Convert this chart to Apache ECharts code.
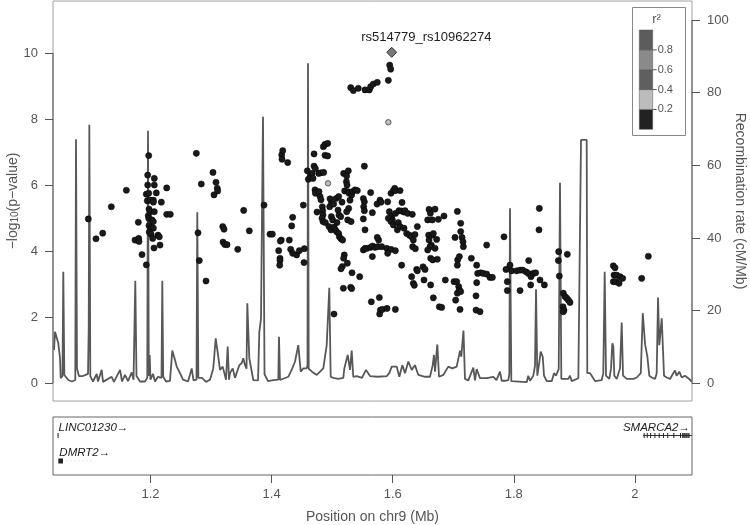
<!DOCTYPE html>
<html><head><meta charset="utf-8">
<script src="https://cdn.jsdelivr.net/npm/echarts@6/dist/echarts.min.js"></script>
<style>html,body{margin:0;padding:0;background:#fff}#c{width:750px;height:525px}</style>
</head><body><div id="c"></div>
<script>
// ---- recombination rate (cM/Mb) ----
const recPos = [1.0407,1.0423,1.0451,1.0478,1.0506,1.0517,1.0547,1.0560,1.0577,1.0605,1.0643,1.0704,1.0758,1.0770,1.0786,1.0819,1.0885,1.0968,1.0980,1.0990,1.1006,1.1051,1.1112,1.1133,1.1194,1.1216,1.1359,1.1397,1.1497,1.1530,1.1579,1.1629,1.1690,1.1720,1.1749,1.1769,1.1827,1.1909,1.1947,1.1959,1.1972,1.1987,1.2000,1.2042,1.2075,1.2124,1.2182,1.2195,1.2210,1.2256,1.2322,1.2360,1.2405,1.2433,1.2487,1.2537,1.2620,1.2681,1.2710,1.2760,1.2773,1.2790,1.2851,1.2917,1.2983,1.3037,1.3077,1.3098,1.3120,1.3148,1.3193,1.3219,1.3247,1.3275,1.3297,1.3313,1.3358,1.3396,1.3424,1.3467,1.3506,1.3533,1.3561,1.3586,1.3599,1.3632,1.3698,1.3776,1.3797,1.3825,1.3858,1.3883,1.3941,1.4028,1.4111,1.4122,1.4139,1.4276,1.4342,1.4387,1.4441,1.4481,1.4524,1.4580,1.4593,1.4601,1.4613,1.4667,1.4745,1.4771,1.4854,1.4882,1.4910,1.4932,1.4953,1.4976,1.5019,1.5097,1.5184,1.5201,1.5257,1.5295,1.5323,1.5349,1.5406,1.5493,1.5559,1.5625,1.5758,1.5901,1.5944,1.5984,1.6010,1.6066,1.6109,1.6159,1.6203,1.6258,1.6314,1.6368,1.6423,1.6534,1.6616,1.6661,1.6682,1.6699,1.6737,1.6765,1.6836,1.6918,1.6985,1.7057,1.7112,1.7133,1.7169,1.7194,1.7249,1.7331,1.7359,1.7387,1.7442,1.7553,1.7579,1.7662,1.7714,1.7772,1.7800,1.7855,1.7909,1.7926,1.7937,1.7959,1.7992,1.8213,1.8239,1.8268,1.8322,1.8350,1.8367,1.8388,1.8421,1.8444,1.8478,1.8499,1.8544,1.8626,1.8664,1.8697,1.8742,1.8763,1.8785,1.8900,1.8928,1.8956,1.9066,1.9094,1.9110,1.9204,1.9214,1.9259,1.9287,1.9341,1.9452,1.9478,1.9501,1.9523,1.9578,1.9606,1.9627,1.9644,1.9660,1.9700,1.9754,1.9782,1.9804,1.9865,1.9974,2.0031,2.0097,2.0130,2.0168,2.0205,2.0238,2.0278,2.0332,2.0360,2.0382,2.0403,2.0426,2.0443,2.0469,2.0481,2.0526,2.0580,2.0624,2.0662,2.0690,2.0733,2.0773,2.0827,2.0882,2.0938];
const recRate = [9.2,14.2,14.2,11.0,6.9,1.4,2.0,30.7,2.3,2.0,0.9,0.5,0.9,67.2,4.1,2.0,2.0,2.6,15.1,71.2,2.0,0.5,2.6,0.5,3.7,0.4,1.8,0.4,3.7,0.5,2.3,0.6,3.0,1.0,28.2,2.0,0.5,0.5,1.5,69.5,2.0,7.8,1.0,2.6,0.5,1.8,1.5,28.2,1.8,0.5,0.7,9.0,6.4,4.6,2.8,1.0,0.5,4.1,0.8,1.0,47.1,1.5,1.5,0.4,1.0,4.1,12.4,12.4,7.3,3.7,4.6,5.0,1.0,10.1,1.0,2.8,4.1,1.5,1.8,5.0,5.5,6.9,5.0,4.0,22.0,6.9,0.9,0.8,14.0,17.9,73.4,2.5,0.6,0.9,1.0,12.8,0.9,1.8,4.1,6.0,10.5,3.2,4.1,4.1,5.0,88.1,4.0,3.2,2.3,1.8,4.1,4.1,10.5,10.5,26.3,1.8,1.5,1.2,1.5,4.1,7.8,3.7,9.0,1.8,2.0,1.5,3.7,2.0,1.8,2.0,2.8,4.6,4.1,4.6,1.8,5.0,2.8,6.0,3.7,5.0,2.3,1.8,1.8,5.0,7.8,3.2,10.7,1.8,2.3,4.6,4.1,4.6,9.0,7.3,14.5,1.2,0.8,4.3,0.8,3.9,1.4,1.4,1.8,1.8,0.9,3.2,0.7,0.7,0.9,2.5,48.2,0.6,0.3,0.3,2.1,0.7,2.1,4.8,25.9,2.1,5.7,8.7,7.3,2.1,0.6,0.6,2.8,2.1,3.9,55.2,1.2,1.2,2.1,0.6,1.4,1.4,67.0,67.0,2.8,2.8,2.1,0.6,0.9,2.8,30.7,2.1,1.2,4.1,11.0,10.1,2.1,1.2,4.1,16.7,2.1,1.2,1.2,1.6,2.8,19.3,10.7,7.5,2.1,1.6,1.2,2.8,23.6,10.5,10.5,17.9,17.9,2.1,1.6,1.2,2.5,3.5,2.1,3.2,1.6,2.1,1.4,0.5];

// ---- SNPs with r2 < 0.2 : position (Mb), -log10(p) ----
const snpPos = [1.0973,1.1100,1.1211,1.1353,1.1601,1.1799,1.1744,1.1805,1.1810,1.1860,1.1931,1.1971,1.1954,1.1954,1.2063,1.2063,1.2096,1.2268,1.1931,1.1971,1.1947,1.1992,1.2047,1.2047,1.2179,1.1976,1.1992,1.2063,1.1964,1.1971,1.2025,1.2047,1.1976,1.2020,1.2047,1.1980,1.2009,1.2124,1.2146,1.2037,1.2157,1.2058,1.2268,1.2327,1.2757,1.2839,1.2785,1.2806,1.2917,1.3032,1.3082,1.3103,1.3110,1.3049,1.3193,1.3214,1.3198,1.3226,1.3264,1.3441,1.3539,1.3632,1.3875,1.3974,1.4012,1.4160,1.4144,1.4117,1.4139,1.4139,1.4134,1.4167,1.4184,1.4172,1.4266,1.4293,
1.4348,1.4332,1.4524,1.4541,1.4535,1.4315,1.4348,1.4414,1.4458,1.4590,1.4607,1.4640,1.4668,1.4701,1.4723,1.4684,1.4778,1.4816,1.4860,1.4701,1.4855,1.4882,1.4926,1.4882,1.4926,1.4717,1.4723,1.4783,1.4800,1.4816,1.4838,1.4750,1.4844,1.4849,1.4833,1.4849,1.4888,1.4965,1.4987,1.4959,1.5025,1.4987,1.5009,1.4948,1.4981,1.5031,1.5053,1.5075,1.5108,1.5119,1.5146,1.5174,1.5097,1.5113,1.5141,1.5080,1.5064,1.5108,1.5190,1.5267,1.5240,1.5235,1.5246,1.5207,1.5257,1.5279,1.5323,1.5334,1.5378,1.5416,1.5163,1.5273,1.5295,1.5240,1.5257,1.5312,1.5532,1.5636,1.5515,1.5532,1.5521,1.5532,1.5515,1.5543,1.5664,1.5515,1.5543,1.5576,1.5636,1.5669,1.5708,1.5752,1.5768,1.5818,1.5664,1.5901,1.5972,1.6044,1.5746,1.5917,1.5201,1.5190,1.5168,1.5146,1.5251,1.5328,1.5455,1.5185,1.5306,1.5323,1.5031,1.5647,1.5780,1.5796,1.5785,1.5829,1.5906,1.6044,1.5741,1.5790,1.5807,1.5917,1.5972,1.6011,1.6033,1.6049,1.6121,1.6154,1.5945,1.5983,1.5994,1.6049,1.6104,1.6148,1.6187,1.6203,1.6247,1.6324,1.5928,1.5972,1.6011,1.6093,1.6077,1.6121,1.6187,1.6231,1.6275,1.6313,1.6341,1.6368,1.6330,1.6374,1.6407,1.6148,1.6313,1.6341,1.6357,1.6396,1.6407,1.6501,1.6534,1.6517,1.6627,1.6671,1.6770,1.6809,1.6600,1.6699,1.6622,1.6578,1.6655,1.6754,1.6847,1.7068,1.7123,1.7029,1.7123,1.7145,1.7161,1.7167,1.6594,1.6600,1.6655,1.6671,1.6638,1.6616,1.6726,1.6699,1.6578,1.6627,1.6660,1.6737,1.6869,1.7013,1.7057,1.7090,1.7101,1.7068,1.7123,1.7040,1.7112,1.7073,1.7068,1.7101,1.7299,1.7387,1.7403,1.7453,1.7497,1.7552,1.7607,1.7646,1.7387,1.7376,1.7376,1.7442,1.7552,
1.7838,1.7871,1.7893,1.7937,1.7965,1.7893,1.8048,1.8103,1.8147,1.8202,1.8246,1.8240,1.8284,1.8323,1.8361,1.8279,1.8103,1.8422,1.8416,1.8433,1.8505,1.8741,1.8736,1.8752,1.8884,1.8818,1.8846,1.8873,1.8901,1.8928,1.8813,1.8829,1.8818,1.9644,1.9672,1.9655,1.9699,1.9754,1.9798,1.9644,1.9683,1.9738,2.0112,2.0222,
1.5307,1.5350,1.5432,1.5543,1.5614,1.5637,1.5680,1.5746,1.5951,1.5967,1.5928];
const snpLogP = [4.98,4.38,4.55,5.35,5.85,4.88,4.34,4.39,4.30,3.90,3.59,6.90,6.31,6.01,6.21,6.01,5.77,5.92,5.73,5.76,5.53,5.55,5.55,5.49,5.49,5.28,5.20,5.20,5.08,5.00,4.95,4.90,4.78,4.72,4.70,4.58,4.52,4.49,4.44,4.39,4.19,4.10,5.12,5.12,6.97,6.04,4.56,3.72,3.10,6.39,6.09,5.91,5.83,5.71,4.75,4.67,4.28,4.21,4.20,4.06,5.24,4.62,5.40,4.52,4.52,4.34,4.31,4.02,3.79,3.72,3.58,6.92,7.05,6.79,6.69,4.34,
5.03,4.77,5.40,4.08,3.66,4.06,3.94,3.89,4.02,6.44,6.18,6.26,6.36,6.58,6.51,6.21,6.36,6.38,6.39,6.95,7.17,7.24,7.27,6.91,6.89,5.86,5.76,5.81,5.66,5.56,5.35,5.19,5.23,5.10,5.00,4.90,4.87,5.59,5.45,5.35,5.43,5.05,4.95,4.75,4.65,4.73,4.65,4.59,4.54,4.44,4.38,4.34,5.25,5.10,5.05,4.87,5.60,5.66,6.36,6.44,6.28,6.11,6.01,5.83,5.81,5.76,5.71,5.81,5.86,5.84,5.49,5.30,5.55,5.20,4.95,4.90,6.58,5.78,5.60,5.50,5.35,5.23,4.98,4.65,5.17,4.04,4.09,4.09,4.12,4.16,4.12,4.14,4.34,4.14,3.84,4.09,4.06,4.02,4.42,3.94,3.89,3.79,3.54,3.47,3.64,3.35,3.23,2.88,2.91,2.87,2.10,2.47,2.60,2.22,2.10,2.24,2.27,2.24,5.43,5.55,5.49,5.50,5.76,5.84,5.91,5.84,5.84,5.48,5.20,5.07,4.95,5.15,5.23,5.22,5.19,5.23,5.15,5.12,5.00,4.90,4.80,4.87,4.65,4.75,4.70,4.54,4.49,4.44,4.34,4.51,4.14,4.08,4.75,3.58,3.23,3.03,2.97,3.45,3.41,3.53,3.45,3.13,2.98,2.59,2.32,2.30,5.27,5.28,5.15,4.95,4.95,4.97,5.07,5.21,4.85,4.42,4.60,4.42,4.29,4.14,4.49,4.34,4.49,4.54,4.19,4.14,4.36,4.09,4.04,3.79,3.74,3.76,3.13,3.08,3.08,2.93,2.83,2.73,2.78,2.52,2.24,3.74,3.58,3.84,3.79,3.58,3.33,3.35,3.33,3.31,3.21,3.21,3.05,2.65,2.22,2.17,4.19,
4.44,3.45,3.08,3.58,3.41,2.81,3.41,3.43,3.43,3.38,3.72,3.33,3.23,3.33,3.35,2.98,2.81,5.30,4.65,3.13,2.98,3.99,3.72,3.25,3.91,2.73,2.63,2.58,2.52,2.45,2.32,2.22,2.17,3.56,3.50,3.28,3.28,3.23,3.18,3.08,3.08,3.03,3.18,3.85,
8.96,8.87,8.94,8.89,8.89,8.99,9.07,9.12,9.64,9.52,9.18];

// ---- SNPs with 0.2 <= r2 < 0.4 ----
const midPos = [1.4932, 1.5928];
const midLogP = [6.06, 7.91];

// ---- lead SNP ----
const leadPos = [1.5984];
const leadLogP = [10.03];
const leadName = ['rs514779_rs10962274'];

// ---- ticks ----
const xTicks = [1.2, 1.4, 1.6, 1.8, 2.0];
const pTicks = [0, 2, 4, 6, 8, 10];
const rateTicks = [0, 20, 40, 60, 80, 100];

// ---- r2 legend ----
const r2Breaks = [0.2, 0.4, 0.6, 0.8];
const r2Colors = ['#222222', '#bcbcbc', '#5f5f5f', '#8a8a8a', '#5c5c5c'];

// ---- genes ----
const geneNames = ['LINC01230', 'DMRT2', 'SMARCA2'];
const geneStart = [1.0466, 1.0478, 2.0135];
const geneEnd = [1.0472, 1.1035, 2.1800];
const geneRow = [0, 1, 0];
const geneExons = [
  [[1.0466, 1.0472]],
  [[1.0478, 1.0555]],
  [[2.0145,2.0152],[2.0195,2.0201],[2.0251,2.0257],[2.0322,2.0328],[2.0393,2.0399],[2.0463,2.0469],[2.0534,2.0540],[2.0634,2.0652],[2.0745,2.0751],[2.0780,2.0786],[2.0800,2.0806],[2.0816,2.0822],[2.0835,2.0841],[2.0851,2.0857],[2.0870,2.0876],[2.0886,2.0892]]
];

const X_MIN = 1.0390, X_MAX = 2.0943;
const FONT = '"Liberation Sans", Arial, sans-serif';
const GRAY = '#555';

const chart = echarts.init(document.getElementById('c'), null, {renderer: 'canvas'});

const legendGraphics = (function () {
  const bx = 632.5, by = 7.5, bw = 53, bh = 128;
  const barX = 639.3, barW = 13.4, barTop = 30, barBot = 129.3;
  const seg = (barBot - barTop) / r2Colors.length;
  const els = [{type: 'rect', shape: {x: bx, y: by, width: bw, height: bh}, style: {fill: '#fff', stroke: '#888', lineWidth: 1}, z: 100}];
  r2Colors.forEach(function (c, k) {
    els.push({type: 'rect', shape: {x: barX, y: barBot - (k + 1) * seg, width: barW, height: seg}, style: {fill: c, stroke: '#555', lineWidth: 0.5}, z: 101});
  });
  r2Breaks.forEach(function (b, k) {
    const y = barBot - (k + 1) * seg;
    els.push({type: 'line', shape: {x1: barX + barW, y1: y, x2: barX + barW + 4, y2: y}, style: {stroke: '#555', lineWidth: 1}, z: 102});
    els.push({type: 'text', style: {x: barX + barW + 5, y: y, text: String(b), font: '11px ' + FONT, fill: GRAY, textAlign: 'left', textVerticalAlign: 'middle'}, z: 102});
  });
  els.push({type: 'text', style: {x: 656.5, y: 19, text: 'r²', font: '13px ' + FONT, fill: GRAY, textAlign: 'center', textVerticalAlign: 'middle'}, z: 102});
  return els;
})();

function axisLineSeries(yIndex, ticks, side) {
  return {
    type: 'custom', xAxisIndex: 0, yAxisIndex: yIndex, silent: true, data: [0], z: 5,
    renderItem: function (params, api) {
      const cs = params.coordSys;
      const x = side === 'left' ? cs.x : cs.x + cs.width;
      const y0 = api.coord([X_MIN, ticks[0]])[1];
      const y1 = api.coord([X_MIN, ticks[ticks.length - 1]])[1];
      return {type: 'line', shape: {x1: x, y1: y0, x2: x, y2: y1}, style: {stroke: GRAY, lineWidth: 1}};
    }
  };
}

const option = {
  animation: false,
  backgroundColor: '#fff',
  textStyle: {fontFamily: FONT},
  grid: [
    {left: 53, right: 58, top: 1, height: 400, show: true, borderColor: '#a0a0a0', borderWidth: 1, backgroundColor: 'transparent', outerBoundsMode: 'none', containLabel: false},
    {left: 53, right: 58, top: 417, height: 58, show: true, borderColor: '#666', borderWidth: 1, backgroundColor: 'transparent', outerBoundsMode: 'none', containLabel: false}
  ],
  xAxis: [
    {type: 'value', gridIndex: 0, min: X_MIN, max: X_MAX, show: false},
    {type: 'value', gridIndex: 1, min: X_MIN, max: X_MAX, position: 'bottom', nameMoveOverlap: false,
      axisLine: {show: false, onZero: false},
      axisTick: {show: true, length: 8, customValues: xTicks, lineStyle: {color: GRAY}},
      axisLabel: {customValues: xTicks, margin: 13, color: GRAY, fontSize: 13, fontFamily: FONT},
      splitLine: {show: false},
      name: 'Position on chr9 (Mb)', nameLocation: 'middle', nameGap: 35,
      nameTextStyle: {color: GRAY, fontSize: 14, fontFamily: FONT}}
  ],
  yAxis: [
    {type: 'value', gridIndex: 0, min: -0.536, max: 11.585, position: 'left', nameMoveOverlap: false,
      axisLine: {show: false, onZero: false},
      axisTick: {show: true, length: 8, customValues: pTicks, lineStyle: {color: GRAY}},
      axisLabel: {customValues: pTicks, margin: 15, color: GRAY, fontSize: 13, fontFamily: FONT},
      splitLine: {show: false},
      name: '{t|−log}{s|10}{t|(p−value)}', nameLocation: 'middle', nameGap: 33, nameRotate: 90,
      nameTextStyle: {color: GRAY, fontSize: 14, fontFamily: FONT,
        rich: {t: {fontSize: 14, color: GRAY, fontFamily: FONT}, s: {fontSize: 10, color: GRAY, fontFamily: FONT, verticalAlign: 'bottom'}}}},
    {type: 'value', gridIndex: 0, min: -4.87, max: 105.23, position: 'right', nameMoveOverlap: false,
      axisLine: {show: false, onZero: false},
      axisTick: {show: true, length: 8, customValues: rateTicks, lineStyle: {color: GRAY}},
      axisLabel: {customValues: rateTicks, margin: 15, color: GRAY, fontSize: 13, fontFamily: FONT},
      splitLine: {show: false},
      name: 'Recombination rate (cM/Mb)', nameLocation: 'middle', nameGap: 41, nameRotate: -90,
      nameTextStyle: {color: GRAY, fontSize: 14, fontFamily: FONT}},
    {type: 'value', gridIndex: 1, min: -0.725, max: 1.549, inverse: true, show: false}
  ],
  graphic: legendGraphics,
  series: [
    axisLineSeries(0, pTicks, 'left'),
    axisLineSeries(1, rateTicks, 'right'),
    {type: 'line', xAxisIndex: 0, yAxisIndex: 1, showSymbol: false, silent: true, z: 2,
      data: recPos.map(function (p, i) { return [p, recRate[i]]; }),
      lineStyle: {color: '#585858', width: 1.8}},
    {type: 'scatter', xAxisIndex: 0, yAxisIndex: 0, z: 3, symbol: 'circle', symbolSize: 6.2,
      data: snpPos.map(function (p, i) { return [p, snpLogP[i]]; }),
      itemStyle: {color: '#1a1a1a', borderColor: '#000', borderWidth: 0.5, opacity: 1}},
    {type: 'scatter', xAxisIndex: 0, yAxisIndex: 0, z: 4, symbol: 'circle', symbolSize: 5.5,
      data: midPos.map(function (p, i) { return [p, midLogP[i]]; }),
      itemStyle: {color: '#bdbdbd', borderColor: '#444', borderWidth: 0.8, opacity: 1}},
    {type: 'scatter', xAxisIndex: 0, yAxisIndex: 0, z: 6, symbol: 'diamond', symbolSize: 10,
      data: leadPos.map(function (p, i) { return {value: [p, leadLogP[i]], name: leadName[i]}; }),
      itemStyle: {color: '#787878', borderColor: '#333', borderWidth: 1, opacity: 1},
      label: {show: true, position: 'top', distance: 5, offset: [34.6, 2], formatter: '{b}', color: '#222', fontSize: 13, fontFamily: FONT}},
    {type: 'custom', xAxisIndex: 1, yAxisIndex: 2, silent: true, z: 5,
      data: geneNames.map(function (n, i) { return [geneStart[i], geneEnd[i], geneRow[i], i]; }),
      renderItem: function (params, api) {
        const cs = params.coordSys;
        const left = cs.x, right = cs.x + cs.width;
        const i = api.value(3);
        const y = api.coord([X_MIN, api.value(2)])[1];
        const sx = api.coord([api.value(0), 0])[0];
        const x0 = Math.max(sx, left), x1 = Math.min(api.coord([api.value(1), 0])[0], right);
        const faint = geneNames[i] === 'DMRT2';
        const children = [{type: 'line', shape: {x1: x0, y1: y, x2: x1, y2: y},
          style: {stroke: faint ? '#d0d0d0' : '#333', lineWidth: 1, lineDash: faint ? [1, 3] : null}}];
        geneExons[i].forEach(function (e) {
          const ea = Math.max(api.coord([e[0], 0])[0], left), eb = Math.min(api.coord([e[1], 0])[0], right);
          children.push({type: 'rect', shape: {x: ea, y: y - 2.5, width: Math.max(eb - ea, 1), height: 5}, style: {fill: '#222'}});
        });
        const rightSide = sx + 80 > right;
        children.push({type: 'text', style: {text: geneNames[i] + '→', x: rightSide ? right - 2 : x0 + 1, y: y - 8,
          textAlign: rightSide ? 'right' : 'left', textVerticalAlign: 'middle', font: 'italic 11.5px ' + FONT, fill: '#222'}});
        return {type: 'group', children: children};
      }}
  ]
};
chart.setOption(option);
</script>
</body></html>
